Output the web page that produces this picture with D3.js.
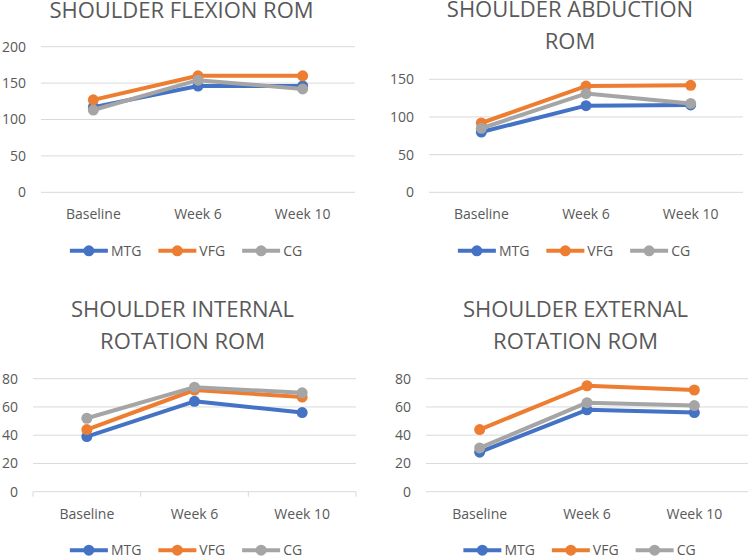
<!DOCTYPE html>
<html><head><meta charset="utf-8">
<script src="https://cdn.jsdelivr.net/npm/d3@7"></script>
<style>body{margin:0;background:#fff;} svg{display:block;font-family:"Open Sans",sans-serif;}</style>
</head><body>
<svg id="c" width="750" height="557"></svg>
<script>
const categories = ["Baseline", "Week 6", "Week 10"];
const seriesNames = ["MTG", "VFG", "CG"];
const titles = [
  ["SHOULDER FLEXION ROM"],
  ["SHOULDER ABDUCTION", "ROM"],
  ["SHOULDER INTERNAL", "ROTATION ROM"],
  ["SHOULDER EXTERNAL", "ROTATION ROM"]
];
const flexionMTG = [117, 146, 146];
const flexionVFG = [127, 160, 160];
const flexionCG  = [113, 154, 142];
const abductionMTG = [80, 115, 116];
const abductionVFG = [92, 141, 142];
const abductionCG  = [85, 131, 118];
const internalMTG = [39, 64, 56];
const internalVFG = [44, 72, 67];
const internalCG  = [52, 74, 70];
const externalMTG = [28, 58, 56];
const externalVFG = [44, 75, 72];
const externalCG  = [31, 63, 61];
const flexionTicks = [0, 50, 100, 150, 200];
const abductionTicks = [0, 50, 100, 150];
const rotationTicks = [0, 20, 40, 60, 80];

const colors = {MTG: "#4472C4", VFG: "#ED7D31", CG: "#A5A5A5"};
const textColor = "#595959", gridColor = "#d9d9d9";

const panels = [
  {title: titles[0], data: [flexionMTG, flexionVFG, flexionCG], ticks: flexionTicks,
   x0: 41, x1: 355, y0: 192.3, y1: 46.7, titleX: 181.5, titleY: [17.5], legendX: 186, axisTicks: false},
  {title: titles[1], data: [abductionMTG, abductionVFG, abductionCG], ticks: abductionTicks,
   x0: 429, x1: 743, y0: 192.3, y1: 79.3, titleX: 570, titleY: [17, 49], legendX: 574, axisTicks: false},
  {title: titles[2], data: [internalMTG, internalVFG, internalCG], ticks: rotationTicks,
   x0: 33, x1: 356, y0: 491.7, y1: 378.7, titleX: 182.5, titleY: [317.3, 349], legendX: 186, axisTicks: true},
  {title: titles[3], data: [externalMTG, externalVFG, externalCG], ticks: rotationTicks,
   x0: 426, x1: 748, y0: 491.7, y1: 378.7, titleX: 575.5, titleY: [317.3, 349], legendX: 579.5, axisTicks: false}
];

const svg = d3.select("#c");

panels.forEach(p => {
  const g = svg.append("g");
  const x = d3.scaleBand().domain(categories).range([p.x0, p.x1]);
  const y = d3.scaleLinear().domain([0, d3.max(p.ticks)]).range([p.y0, p.y1]);

  // title
  p.title.forEach((t, i) => {
    g.append("text").attr("x", p.titleX).attr("y", p.titleY[i])
      .attr("text-anchor", "middle").attr("fill", textColor)
      .style("font-size", "22px").text(t);
  });

  // gridlines
  g.selectAll(".grid").data(p.ticks).join("line")
    .attr("x1", p.x0).attr("x2", p.x1)
    .attr("y1", d => y(d)).attr("y2", d => y(d))
    .attr("stroke", gridColor).attr("stroke-width", 1);

  // y axis labels
  const ya = d3.axisLeft(y).tickValues(p.ticks).tickSize(0).tickPadding(15);
  const yg = g.append("g").attr("transform", `translate(${p.x0},0)`).call(ya);
  yg.select(".domain").remove();
  yg.selectAll("text").attr("fill", textColor).style("font-size", "14px")
    .style("font-family", "'Open Sans',sans-serif");

  // x axis
  const xa = d3.axisBottom(x).tickSize(0).tickPadding(17);
  const xg = g.append("g").attr("transform", `translate(0,${p.y0})`).call(xa);
  xg.select(".domain").remove();
  xg.selectAll("text").attr("fill", textColor).style("font-size", "14px")
    .style("font-family", "'Open Sans',sans-serif");
  if (p.axisTicks) {
    const bounds = [p.x0, ...categories.map(c => x(c) + x.bandwidth())];
    g.selectAll(".xt").data(bounds).join("line")
      .attr("x1", d => d).attr("x2", d => d)
      .attr("y1", p.y0).attr("y2", p.y0 + 5)
      .attr("stroke", gridColor).attr("stroke-width", 1);
  }

  // series
  const line = d3.line().x((d, i) => x(categories[i]) + x.bandwidth() / 2).y(d => y(d));
  seriesNames.forEach((s, si) => {
    const vals = p.data[si];
    g.append("path").datum(vals).attr("d", line)
      .attr("fill", "none").attr("stroke", colors[s]).attr("stroke-width", 4)
      .attr("stroke-linejoin", "round").attr("stroke-linecap", "round");
    g.selectAll(".m" + s).data(vals).join("circle")
      .attr("cx", (d, i) => x(categories[i]) + x.bandwidth() / 2)
      .attr("cy", d => y(d)).attr("r", 5.5).attr("fill", colors[s]);
  });

  // legend
  const ly = p.y0 + 58.5;
  const lg = g.append("g");
  let cx = 0;
  const items = [];
  seriesNames.forEach(s => {
    const it = lg.append("g").attr("transform", `translate(${cx},0)`);
    it.append("line").attr("x1", 0).attr("x2", 38).attr("y1", ly).attr("y2", ly)
      .attr("stroke", colors[s]).attr("stroke-width", 4);
    it.append("circle").attr("cx", 19).attr("cy", ly).attr("r", 5.5).attr("fill", colors[s]);
    const tx = it.append("text").attr("x", 41).attr("y", ly + 5).attr("fill", textColor)
      .style("font-size", "14px").text(s);
    const w = tx.node().getComputedTextLength();
    cx += 41 + w + 17;
  });
  const total = cx - 17;
  lg.attr("transform", `translate(${p.legendX - total / 2},0)`);
});
</script>
</body></html>
